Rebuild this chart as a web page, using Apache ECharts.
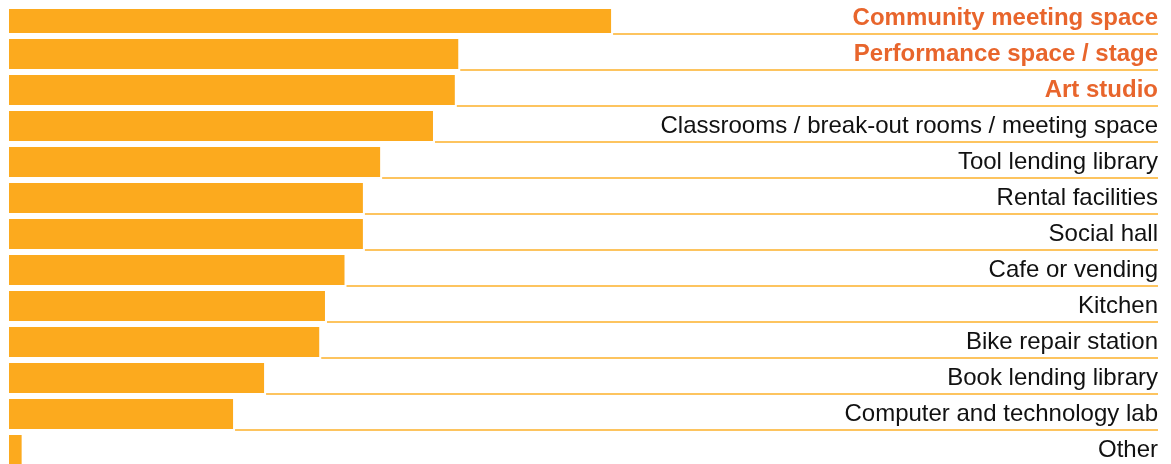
<!DOCTYPE html>
<html>
<head>
<meta charset="utf-8">
<title>Desired facilities</title>
<script src="https://cdn.jsdelivr.net/npm/echarts@6/dist/echarts.min.js"></script>
<style>
  html, body { margin: 0; padding: 0; background: #ffffff; overflow: hidden; }
  #chart { width: 1171px; height: 468px; }
</style>
</head>
<body>
<div id="chart"></div>
<script>
// Facility types, ordered from most to least requested
const categories = [
  'Community meeting space',
  'Performance space / stage',
  'Art studio',
  'Classrooms / break-out rooms / meeting space',
  'Tool lending library',
  'Rental facilities',
  'Social hall',
  'Cafe or vending',
  'Kitchen',
  'Bike repair station',
  'Book lending library',
  'Computer and technology lab',
  'Other'
];

// Share of responses (%)
const values = [52.4, 39.1, 38.8, 36.9, 32.3, 30.8, 30.8, 29.2, 27.5, 27.0, 22.2, 19.5, 1.1];

// The leading items get a highlighted label
const highlighted = ['Community meeting space', 'Performance space / stage', 'Art studio'];

const BAR_COLOR = '#FCAA1E';
const RULE_COLOR = '#FDB12A';
const TOP_LIMIT = 9;
const FONT = "'Liberation Sans', Arial, sans-serif";

const chart = echarts.init(document.getElementById('chart'), null, { renderer: 'canvas' });

function renderRow(params, api) {
  const idx = api.value(0);
  const val = api.value(1);
  const start = api.coord([0, idx]);
  const end = api.coord([val, idx]);
  const band = api.size([0, 1])[1];
  const barH = band * 30 / 36;
  const cs = params.coordSys;
  const rect = echarts.graphic.clipRectByRect(
    { x: start[0], y: start[1] - barH / 2, width: end[0] - start[0], height: barH },
    { x: cs.x, y: TOP_LIMIT, width: cs.width, height: cs.height }
  );
  const ruleY = start[1] + barH / 2 + 1;
  return {
    type: 'group',
    children: [
      { type: 'rect', shape: rect, style: { fill: BAR_COLOR } },
      {
        type: 'line',
        shape: { x1: end[0] + 2, y1: ruleY, x2: cs.x + cs.width, y2: ruleY },
        style: { stroke: RULE_COLOR, lineWidth: 1.5 }
      }
    ]
  };
}

chart.setOption({
  animation: false,
  backgroundColor: '#ffffff',
  grid: { left: 9, right: 13, top: 0, bottom: 0, containLabel: false },
  xAxis: {
    type: 'value', min: 0, max: 100, show: false
  },
  yAxis: {
    type: 'category',
    data: categories,
    inverse: true,
    position: 'right',
    axisLine: { show: false },
    axisTick: { show: false },
    splitLine: { show: false },
    axisLabel: {
      inside: true,
      margin: 0,
      fontFamily: FONT,
      fontSize: 24,
      color: '#111111',
      formatter: function (name) {
        return highlighted.indexOf(name) >= 0 ? '{hi|' + name + '}' : '{n|' + name + '}';
      },
      rich: {
        hi: { fontFamily: FONT, fontSize: 24, fontWeight: 'bold', color: '#E8652C' },
        n: { fontFamily: FONT, fontSize: 24, color: '#111111' }
      }
    }
  },
  series: [{
    type: 'custom',
    renderItem: renderRow,
    encode: { y: 0, x: 1 },
    data: values.map(function (v, i) { return [i, v]; }),
    z: 1
  }]
});
</script>
</body>
</html>
